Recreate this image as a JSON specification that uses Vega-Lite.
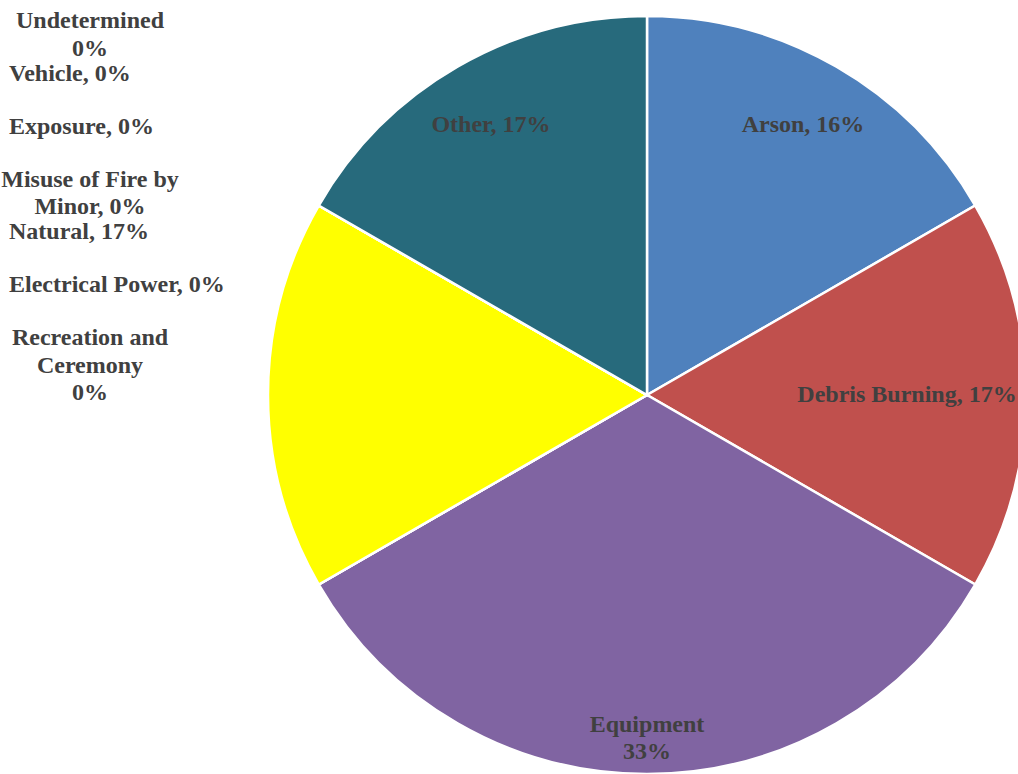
{
  "$schema": "https://vega.github.io/schema/vega-lite/v6.json",
  "autosize": "none",
  "padding": 0,
  "width": 1294,
  "height": 790,
  "background": "white",
  "config": {"view": {"stroke": null}},
  "data": {
    "values": [
      {"Seq": 1, "Cause": "Arson", "Count": 1, "Label": "Arson, 16%"},
      {"Seq": 2, "Cause": "Debris Burning", "Count": 1, "Label": "Debris Burning, 17%"},
      {"Seq": 3, "Cause": "Equipment", "Count": 2, "Label": "Equipment\n33%"},
      {"Seq": 4, "Cause": "Recreation and Ceremony", "Count": 0, "Label": "Recreation and\nCeremony\n0%"},
      {"Seq": 5, "Cause": "Electrical Power", "Count": 0, "Label": "Electrical Power, 0%"},
      {"Seq": 6, "Cause": "Natural", "Count": 1, "Label": "Natural, 17%"},
      {"Seq": 7, "Cause": "Misuse of Fire by Minor", "Count": 0, "Label": "Misuse of Fire by\nMinor, 0%"},
      {"Seq": 8, "Cause": "Exposure", "Count": 0, "Label": "Exposure, 0%"},
      {"Seq": 9, "Cause": "Vehicle", "Count": 0, "Label": "Vehicle, 0%"},
      {"Seq": 10, "Cause": "Undetermined", "Count": 0, "Label": "Undetermined\n0%"},
      {"Seq": 11, "Cause": "Other", "Count": 1, "Label": "Other, 17%"}
    ]
  },
  "layer": [
    {
      "mark": {"type": "arc", "outerRadius": 379, "stroke": "white", "strokeWidth": 2.5},
      "encoding": {
        "theta": {"field": "Count", "type": "quantitative", "stack": true},
        "order": {"field": "Seq", "type": "quantitative"},
        "color": {
          "field": "Cause",
          "type": "nominal",
          "legend": null,
          "scale": {
            "domain": ["Arson", "Debris Burning", "Equipment", "Recreation and Ceremony", "Electrical Power", "Natural", "Misuse of Fire by Minor", "Exposure", "Vehicle", "Undetermined", "Other"],
            "range": ["#4F81BD", "#C0504D", "#8064A2", "#4BACC6", "#F79646", "#FFFF00", "#2C4D75", "#772C2A", "#5F7530", "#4D3B62", "#276A7C"]
          }
        }
      }
    },
    {
      "mark": {"type": "text", "radius": 312, "align": "center", "baseline": "middle", "font": "Liberation Serif", "fontWeight": "bold", "fontSize": 24, "color": "#404040"},
      "encoding": {
        "theta": {"field": "Count", "type": "quantitative", "stack": true},
        "order": {"field": "Seq", "type": "quantitative"},
        "text": {"condition": {"test": "datum.Cause === 'Arson' || datum.Cause === 'Other'", "field": "Label"}, "value": ""}
      }
    },
    {
      "mark": {"type": "text", "radius": 260, "align": "center", "baseline": "middle", "font": "Liberation Serif", "fontWeight": "bold", "fontSize": 24, "color": "#404040"},
      "encoding": {
        "theta": {"field": "Count", "type": "quantitative", "stack": true},
        "order": {"field": "Seq", "type": "quantitative"},
        "text": {"condition": {"test": "datum.Cause === 'Debris Burning'", "field": "Label"}, "value": ""}
      }
    },
    {
      "mark": {"type": "text", "radius": 330, "align": "center", "baseline": "middle", "lineBreak": "\n", "lineHeight": 27, "font": "Liberation Serif", "fontWeight": "bold", "fontSize": 24, "color": "#404040"},
      "encoding": {
        "theta": {"field": "Count", "type": "quantitative", "stack": true},
        "order": {"field": "Seq", "type": "quantitative"},
        "text": {"condition": {"test": "datum.Cause === 'Equipment'", "field": "Label"}, "value": ""}
      }
    },
    {
      "transform": [{"filter": {"field": "Cause", "oneOf": ["Vehicle", "Exposure", "Natural", "Electrical Power"]}}],
      "mark": {"type": "text", "align": "left", "baseline": "top", "font": "Liberation Serif", "fontWeight": "bold", "fontSize": 24, "color": "#404040"},
      "encoding": {
        "x": {"datum": 0, "type": "quantitative", "scale": {"domain": [0, 1], "range": [9, 100]}, "axis": null},
        "y": {"field": "Cause", "type": "nominal", "axis": null, "scale": {"type": "point", "padding": 0, "domain": ["Undetermined", "Vehicle", "Exposure", "Misuse of Fire by Minor", "Natural", "Electrical Power", "Recreation and Ceremony"], "range": [9, 326]}},
        "text": {"field": "Label"}
      }
    },
    {
      "transform": [{"filter": {"field": "Cause", "oneOf": ["Undetermined", "Misuse of Fire by Minor", "Recreation and Ceremony"]}}],
      "mark": {"type": "text", "align": "center", "baseline": "top", "dx": 81, "lineBreak": "\n", "lineHeight": 27.5, "font": "Liberation Serif", "fontWeight": "bold", "fontSize": 24, "color": "#404040"},
      "encoding": {
        "x": {"datum": 0, "type": "quantitative", "scale": {"domain": [0, 1], "range": [9, 100]}, "axis": null},
        "y": {"field": "Cause", "type": "nominal", "axis": null, "scale": {"type": "point", "padding": 0, "domain": ["Undetermined", "Vehicle", "Exposure", "Misuse of Fire by Minor", "Natural", "Electrical Power", "Recreation and Ceremony"], "range": [9, 326]}},
        "text": {"field": "Label"}
      }
    }
  ]
}
